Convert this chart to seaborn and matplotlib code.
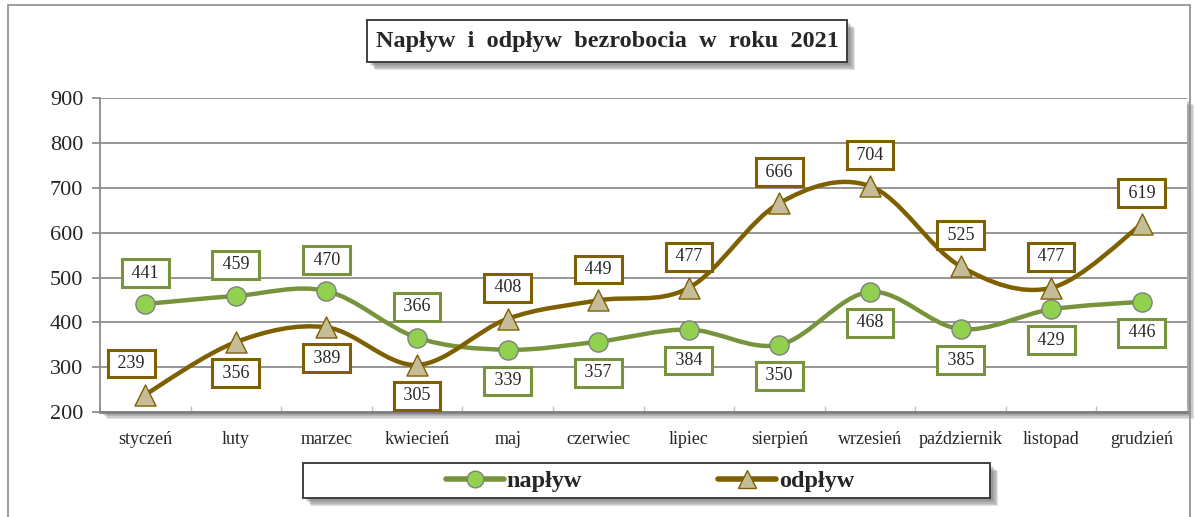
"""
Napływ i odpływ bezrobocia w roku 2021 - line chart with Excel-style smoothed lines.
"""

import matplotlib

matplotlib.use("Agg")
import matplotlib.patheffects as pe
import matplotlib.pyplot as plt
import pandas as pd
import seaborn as sns
from matplotlib.lines import Line2D
from matplotlib.patches import PathPatch, Rectangle
from matplotlib.path import Path

months = ["styczeń", "luty", "marzec", "kwiecień", "maj", "czerwiec",
          "lipiec", "sierpień", "wrzesień", "październik", "listopad", "grudzień"]
inflow = [441, 459, 470, 366, 339, 357, 384, 350, 468, 385, 429, 446]
outflow = [239, 356, 389, 305, 408, 449, 477, 666, 704, 525, 477, 619]
# label above (+1) or below (-1) the point
inflow_pos = [1, 1, 1, 1, -1, -1, -1, -1, -1, -1, -1, -1]
outflow_pos = [1, -1, -1, -1, 1, 1, 1, 1, 1, 1, 1, 1]

GREEN_LINE = "#77933C"
GREEN_FILL = "#92D050"
BROWN_LINE = "#7F6000"
BROWN_FILL = "#C4BD97"
SERIF = ["Liberation Serif", "DejaVu Serif"]

df = pd.DataFrame({"month": months, "napływ": inflow, "odpływ": outflow})

sns.set_theme(style="white")
plt.rcParams["font.family"] = SERIF


def smooth_path(values):
    # cubic Bezier segments through the points (Catmull-Rom style, like Excel)
    pts = list(enumerate(values))
    verts = [pts[0]]
    codes = [Path.MOVETO]
    n = len(pts)
    for i in range(n - 1):
        p0 = pts[max(i - 1, 0)]
        p1 = pts[i]
        p2 = pts[i + 1]
        p3 = pts[min(i + 2, n - 1)]
        c1 = (p1[0] + (p2[0] - p0[0]) / 6, p1[1] + (p2[1] - p0[1]) / 6)
        c2 = (p2[0] - (p3[0] - p1[0]) / 6, p2[1] - (p3[1] - p1[1]) / 6)
        verts += [c1, c2, p2]
        codes += [Path.CURVE4] * 3
    return Path(verts, codes)


# soft-ish drop shadow made of a few stacked offsets
def soft_shadow(d=5):
    layers = [pe.SimplePatchShadow(offset=(k, -k), shadow_rgbFace="#606060", alpha=0.18)
              for k in range(2, d + 2)]
    return layers + [pe.Normal()]


fig = plt.figure(figsize=(11.96, 5.17), dpi=100)
# outer frame
fig.patches.append(Rectangle((0.007, -0.01), 0.988, 1.0, transform=fig.transFigure,
                             fill=False, ec="#8c8c8c", lw=1.2))

ax = fig.add_axes([0.0836, 0.203, 0.9089, 0.607])
ax.patch.set_path_effects(soft_shadow(4))

ax.add_patch(PathPatch(smooth_path(inflow), fill=False, ec=GREEN_LINE, lw=3.2,
                       capstyle="round", zorder=3))
ax.add_patch(PathPatch(smooth_path(outflow), fill=False, ec=BROWN_LINE, lw=3.2,
                       capstyle="round", zorder=3))

sns.scatterplot(data=df, x="month", y="napływ", ax=ax, marker="o", s=190,
                color=GREEN_FILL, edgecolor="#7f7f7f", linewidth=1, zorder=4)
sns.scatterplot(data=df, x="month", y="odpływ", ax=ax, marker="^", s=230,
                color=BROWN_FILL, edgecolor=BROWN_LINE, linewidth=1, zorder=4)


def add_labels(values, positions, color, nudge=None):
    nudge = nudge or {}
    for i, (v, p) in enumerate(zip(values, positions)):
        ax.annotate(f" {v} ", (i, v), xytext=(nudge.get(i, 0), 31 * p),
                    textcoords="offset pixels",
                    ha="center", va="center", fontsize=13, zorder=6,
                    bbox=dict(boxstyle="square,pad=0.3", fc="white", ec=color, lw=2.2))


add_labels(inflow, inflow_pos, GREEN_LINE)
add_labels(outflow, outflow_pos, BROWN_LINE, nudge={0: -14})

ax.set_xlim(-0.5, 11.5)
ax.set_ylim(200, 900)
ax.set_yticks(range(200, 1000, 100))
ax.set_xticks(range(len(months)))
ax.set_xticklabels(months)
ax.set_xticks([i + 0.5 for i in range(-1, 12)], minor=True)
ax.set_xlabel("")
ax.set_ylabel("")
ax.grid(axis="y", color="#8c8c8c", lw=1.3)
ax.grid(axis="x", visible=False)
for s in ["top", "right"]:
    ax.spines[s].set_visible(False)
ax.spines["left"].set_color("#8c8c8c")
ax.spines["bottom"].set_color("#808080")
ax.spines["left"].set_linewidth(1.3)
ax.spines["bottom"].set_linewidth(2)
ax.tick_params(axis="y", left=True, length=6, color="#8c8c8c", labelsize=16, pad=6)
ax.tick_params(axis="x", which="major", bottom=False, labelsize=13, pad=8)
ax.tick_params(axis="x", which="minor", bottom=True, direction="in", length=4,
               color="#bfbfbf")

# title box
fig.patches.append(Rectangle((367 / 1196, 1 - 62 / 517), 480 / 1196, 42 / 517,
                             transform=fig.transFigure, fc="white", ec="#333333",
                             lw=1.3, path_effects=soft_shadow(5), zorder=1))
fig.text(607 / 1196, 1 - 41 / 517, "Napływ  i  odpływ  bezrobocia  w  roku  2021",
         ha="center", va="center", fontsize=17.5, fontweight="bold", zorder=2)

# legend box
fig.patches.append(Rectangle((303 / 1196, 1 - 498 / 517), 687 / 1196, 35 / 517,
                             transform=fig.transFigure, fc="white", ec="#333333",
                             lw=1.3, path_effects=soft_shadow(5), zorder=1))
handles = [
    Line2D([], [], color=GREEN_LINE, lw=4, marker="o", ms=12,
           mfc=GREEN_FILL, mec="#7f7f7f"),
    Line2D([], [], color=BROWN_LINE, lw=4, marker="^", ms=13,
           mfc=BROWN_FILL, mec=BROWN_LINE),
]
fig.legend(handles, ["napływ", "odpływ"], loc="center",
           bbox_to_anchor=(650 / 1196, 1 - 481 / 517), ncol=2, frameon=False,
           handlelength=2.4, handletextpad=0.1, columnspacing=5.6,
           prop={"family": SERIF, "weight": "bold", "size": 17.5})

fig.savefig("out.png", dpi=100)
